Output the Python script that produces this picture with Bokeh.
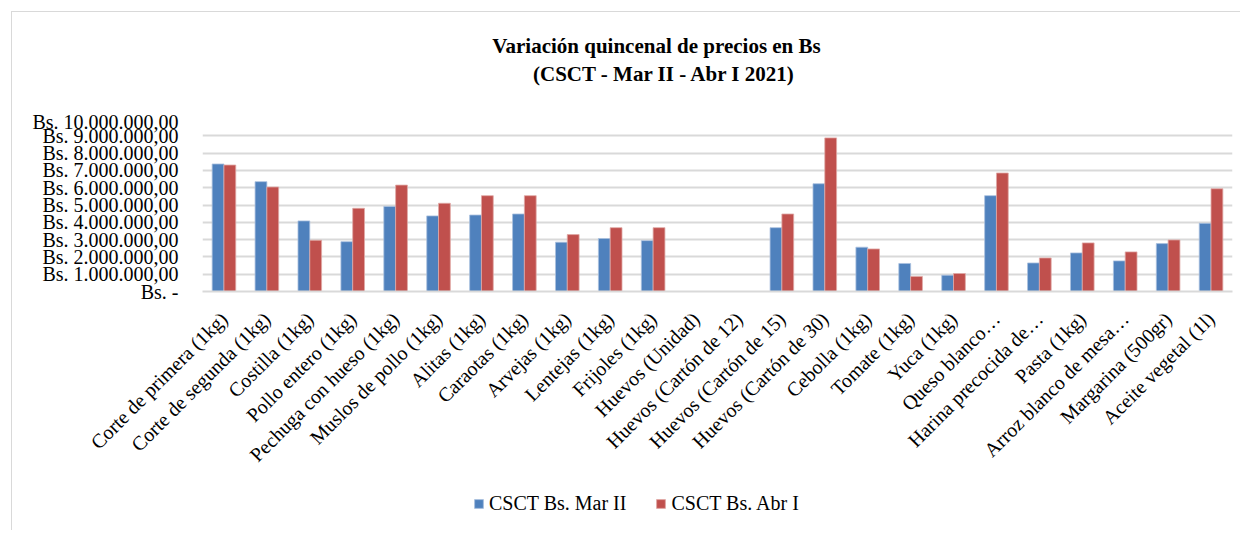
from bokeh.plotting import figure
from bokeh.models import (ColumnDataSource, FixedTicker, Legend, LegendItem,
                          Range1d)
from bokeh.layouts import column
from bokeh.core.properties import value
from bokeh.transform import dodge
from bokeh.embed import file_html
from bokeh.resources import INLINE
from math import pi

productos = [
    "Corte de primera (1kg)", "Corte de segunda (1kg)", "Costilla (1kg)",
    "Pollo entero (1kg)", "Pechuga con hueso (1kg)", "Muslos de pollo (1kg)",
    "Alitas (1kg)", "Caraotas (1kg)", "Arvejas (1kg)", "Lentejas (1kg)",
    "Frijoles (1kg)", "Huevos (Unidad)", "Huevos (Cartón de 12)",
    "Huevos (Cartón de 15)", "Huevos (Cartón de 30)", "Cebolla (1kg)",
    "Tomate (1kg)", "Yuca (1kg)", "Queso blanco…", "Harina precocida de…",
    "Pasta (1kg)", "Arroz blanco de mesa…", "Margarina (500gr)",
    "Aceite vegetal (1l)",
]
mar_ii = [7370000, 6350000, 4080000, 2880000, 4920000, 4370000, 4420000,
          4480000, 2850000, 3060000, 2940000, 0, 0, 3690000, 6230000,
          2560000, 1620000, 940000, 5540000, 1650000, 2230000, 1770000,
          2770000, 3940000]
abr_i = [7310000, 6040000, 2960000, 4810000, 6150000, 5100000, 5540000,
         5540000, 3290000, 3690000, 3690000, 0, 0, 4480000, 8880000,
         2460000, 870000, 1040000, 6850000, 1940000, 2810000, 2290000,
         2980000, 5940000]
series_names = ["CSCT Bs. Mar II", "CSCT Bs. Abr I"]
y_ticks = [0, 1000000, 2000000, 3000000, 4000000, 5000000, 6000000,
           7000000, 8000000, 9000000, 10000000]
y_tick_labels = ["Bs. -", "Bs. 1.000.000,00", "Bs. 2.000.000,00",
                 "Bs. 3.000.000,00", "Bs. 4.000.000,00", "Bs. 5.000.000,00",
                 "Bs. 6.000.000,00", "Bs. 7.000.000,00", "Bs. 8.000.000,00",
                 "Bs. 9.000.000,00", "Bs. 10.000.000,00"]
title_lines = ["Variación quincenal de precios en Bs",
               "(CSCT - Mar II - Abr I 2021)"]

FONT = "Liberation Serif"
BLUE = "#4F81BD"
RED = "#C0504D"
GRID = "#d9d9d9"
W = 1240
FRAME_L, FRAME_R = 202, 1232   # page x of the plotting area edges

# thin chart-area border (left and top), drawn as CSS background lines
LINE = "linear-gradient(#d9d9d9, #d9d9d9)"
side_style = {"background-image": LINE, "background-size": "1px 100%",
              "background-position": "11px 0", "background-repeat": "no-repeat"}
top_style = {"background-image": f"{LINE}, {LINE}",
             "background-size": "1px calc(100% - 11px), calc(100% - 11px) 1px",
             "background-position": "11px 11px, 11px 11px",
             "background-repeat": "no-repeat"}

# ---------- title strip (frame is aligned with the chart's frame) ----------
TH = 110
pt = figure(width=W, height=TH, x_range=Range1d(FRAME_L, FRAME_R),
            y_range=Range1d(TH, 0), output_backend="svg",
            toolbar_location=None, x_axis_type=None, y_axis_type=None,
            min_border=0)
pt.outline_line_color = None
pt.xgrid.grid_line_color = None
pt.ygrid.grid_line_color = None
pt.border_fill_color = None
pt.background_fill_color = None
pt.styles = top_style
pt.text(x=[656, 664], y=[45, 73], text=title_lines,
        text_font=value(FONT), text_font_size="21px",
        text_font_style="bold", text_color="#000000",
        text_align="center", text_baseline="middle")

# ---------- main chart ----------
source = ColumnDataSource(dict(producto=productos, mar=mar_ii, abr=abr_i))

p = figure(x_range=productos, y_range=Range1d(0, 10000000),
           width=W, height=370, output_backend="svg",
           toolbar_location=None, title=None,
           min_border_left=FRAME_L, min_border_right=W - FRAME_R,
           min_border_top=8, min_border_bottom=189)
p.outline_line_color = None
p.border_fill_color = None
p.background_fill_color = None
p.styles = side_style

r1 = p.vbar(x=dodge("producto", -0.1375, range=p.x_range), top="mar",
            width=0.275, source=source, fill_color=BLUE,
            line_color="#a9c0de", line_width=0.8)
r2 = p.vbar(x=dodge("producto", 0.1375, range=p.x_range), top="abr",
            width=0.275, source=source, fill_color=RED,
            line_color="#e0a8a6", line_width=0.8)

p.yaxis.ticker = FixedTicker(ticks=y_ticks)
p.yaxis.major_label_overrides = {v: s for v, s in zip(y_ticks, y_tick_labels)}
p.yaxis.axis_line_color = None
p.yaxis.major_tick_line_color = None
p.yaxis.minor_tick_line_color = None
p.yaxis.major_label_text_font = FONT
p.yaxis.major_label_text_font_size = "20px"
p.yaxis.major_label_text_color = "#000000"
p.yaxis.major_label_standoff = 18

p.xaxis.axis_line_color = GRID
p.xaxis.axis_line_width = 2
p.xaxis.major_tick_line_color = None
p.xaxis.minor_tick_line_color = None
p.xaxis.major_label_orientation = pi / 4
p.xaxis.major_label_text_font = FONT
p.xaxis.major_label_text_font_size = "20px"
p.xaxis.major_label_text_color = "#000000"
p.xaxis.major_label_standoff = 18

p.xgrid.grid_line_color = None
p.ygrid.grid_line_color = GRID
p.ygrid.grid_line_width = 1.8

# ---------- legend strip ----------
LH = 50
pl = figure(width=W, height=LH, x_range=Range1d(0, 1), y_range=Range1d(0, 1),
            output_backend="svg", toolbar_location=None,
            x_axis_type=None, y_axis_type=None, min_border=0)
pl.outline_line_color = None
pl.xgrid.grid_line_color = None
pl.ygrid.grid_line_color = None
pl.border_fill_color = None
pl.background_fill_color = None
pl.styles = side_style
# legend swatches only (kept outside the visible range)
lr1 = pl.vbar(x=[-10], top=[0], width=0.1, fill_color=BLUE, line_color="#a9c0de")
lr2 = pl.vbar(x=[-10], top=[0], width=0.1, fill_color=RED, line_color="#e0a8a6")
legend = Legend(items=[LegendItem(label=series_names[0], renderers=[lr1]),
                       LegendItem(label=series_names[1], renderers=[lr2])],
                orientation="horizontal", location=(473 - FRAME_L, 15),
                border_line_color=None, background_fill_alpha=0,
                padding=0, margin=0, spacing=29, label_standoff=5,
                glyph_width=11, glyph_height=11,
                label_text_font=FONT, label_text_font_size="20px",
                label_text_color="#000000")
pl.add_layout(legend, "center")

layout = column(pt, p, pl, spacing=0)
open("out.html", "w").write(file_html(layout, INLINE))
